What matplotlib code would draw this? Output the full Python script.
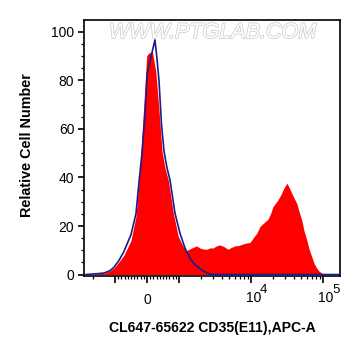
import matplotlib
matplotlib.use('Agg')
import matplotlib.pyplot as plt
import matplotlib.patheffects as pe
from matplotlib.ticker import FixedLocator, FixedFormatter, NullFormatter, MultipleLocator

plt.rcParams['font.family'] = ['Liberation Sans', 'DejaVu Sans']

# sample (red filled histogram): fluorescence intensity vs relative cell number
red_x = [-2371, -1836, -1422, -1173, -1033, -875, -719, -500, -344, -250, -188, -94,
         -9, 31, 94, 166, 272, 375, 469, 562, 666, 822, 978, 1147, 1279, 1501, 1762,
         1957, 2175, 2425, 2695, 2967, 3318, 3710, 4217, 4793, 5360, 5995, 6813, 7743,
         8660, 9685, 10660, 12000, 13340, 14680, 17220, 18660, 20210, 23710, 26100,
         27830, 29670, 31620, 33710, 36750, 39560, 43120, 46420, 50600, 54460, 59370,
         63930, 69680, 74990, 81760, 88010, 95920, 103300, 113600]
red_y = [0, 0.3, 0.5, 1.5, 2.7, 5.2, 8, 14, 24, 38, 51, 71,
         90, 91, 91.5, 92, 84, 68, 51, 44, 39, 25.4, 15.7, 11.5, 9.9, 10.9, 11.8,
         10.9, 10.5, 10.4, 11, 10.9, 11.8, 12.2, 11.5, 10.4, 11.2, 11.8, 12.0, 12.6,
         13.0, 13.2, 15, 17, 19.8, 21, 22.8, 25, 28, 30.8, 33,
         34.9, 36.5, 37.6, 36, 33.5, 31.5, 29.4, 26, 22.5, 18, 14.3,
         10.5, 7.4, 4.6, 2.6, 1.4, 0.6, 0.2, 0]

# control (blue outline)
blue_x = [-2527, -1836, -1422, -1173, -1033, -875, -719, -500, -344, -250, -147, -62,
          9, 116, 166, 250, 312, 375, 453, 531, 625, 719, 875, 1033, 1212, 1422,
          1668, 2067, 2371, 2695, 3063, 170000]
blue_y = [0, 0.3, 0.6, 1.6, 3, 5.8, 9.5, 16.4, 25, 38, 51, 66,
          83, 89, 92, 96.7, 89, 80, 62, 51, 44, 39, 25.3, 17, 10.9, 6.7,
          4, 1.9, 0.8, 0.2, 0, 0]

y_ticks = [0, 20, 40, 60, 80, 100]
x_major = [-1000, 0, 1000, 10000, 100000]
x_major_labels = ['', '0', '', '', '']
x_power_labels = {10000: '4', 100000: '5'}
x_minor = ([-2000] + list(range(-900, 1000, 100)) + [k * 1000 for k in range(2, 10)]
           + [k * 10000 for k in range(2, 10)])

fig = plt.figure(figsize=(3.61, 3.56), dpi=100)
ax = fig.add_axes([84 / 361, (356 - 275.5) / 356, 256 / 361, 255.5 / 356])
ax.set_xscale('symlog', linthresh=1000, linscale=0.4)

ax.fill_between(red_x, red_y, 0, color='#ff0000', lw=0, zorder=2)
ax.plot(blue_x, blue_y, color='#1c1c8c', lw=1.2, zorder=3)

ax.set_xlim(-2690, 172000)
ax.set_ylim(-0.4, 104.9)

ax.yaxis.set_major_locator(FixedLocator(y_ticks))
ax.yaxis.set_minor_locator(MultipleLocator(5))
ax.xaxis.set_major_locator(FixedLocator(x_major))
ax.xaxis.set_major_formatter(FixedFormatter(x_major_labels))
ax.xaxis.set_minor_locator(FixedLocator(x_minor))
ax.xaxis.set_minor_formatter(NullFormatter())

ax.tick_params(which='major', direction='out', width=1.2, labelsize=10, colors='black')
ax.tick_params(axis='y', which='major', length=4, pad=3)
ax.tick_params(axis='x', which='major', length=5, pad=7.5)
ax.tick_params(which='minor', direction='out', length=2.5, width=0.9)
for s in ax.spines.values():
    s.set_linewidth(1.2)

for xv, ex in x_power_labels.items():
    ax.annotate('10', xy=(xv, 0), xycoords=('data', 'axes fraction'),
                xytext=(-3.6, -16.2), textcoords='offset points',
                ha='left', va='center', fontsize=10)
    ax.annotate(ex, xy=(xv, 0), xycoords=('data', 'axes fraction'),
                xytext=(6.6, -10.6), textcoords='offset points',
                ha='left', va='center', fontsize=9.5)

ax.text(0.502, 0.951, 'WWW.PTGLAB.COM', transform=ax.transAxes, ha='center', va='center',
        fontsize=15.5, style='italic', color='white', zorder=1,
        path_effects=[pe.withStroke(linewidth=1.1, foreground='#cccccc')])

ax.set_ylabel('Relative Cell Number', fontweight='bold', fontsize=10.4)
ax.yaxis.set_label_coords(-0.221, 0.51)
ax.yaxis.label.set_va('center')
ax.set_xlabel('CL647-65622 CD35(E11),APC-A', fontweight='bold', fontsize=10.1)
ax.xaxis.set_label_coords(0.5, -0.205)
ax.xaxis.label.set_va('center')

fig.savefig('out.png', dpi=100)
